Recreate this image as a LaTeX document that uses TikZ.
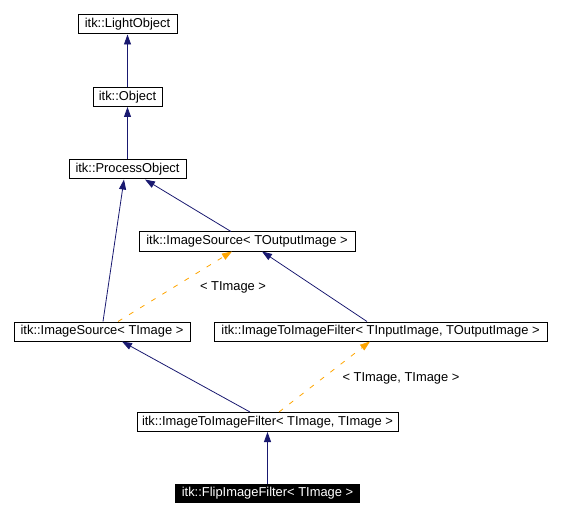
\documentclass[tikz,border=0pt]{standalone}
\usepackage{fontspec}
\setmainfont{Liberation Sans}
\usetikzlibrary{arrows.meta}
\definecolor{edgeblue}{RGB}{25,25,112}
\definecolor{tmplorange}{RGB}{255,165,0}
\begin{document}
\begin{tikzpicture}[x=1pt,y=-1pt,
  cls/.style={draw=black,line width=1pt,inner sep=0pt,minimum height=19pt,font=\fontsize{12.9}{15}\selectfont,fill=white},
  curcls/.style={fill=black,text=white,inner sep=0pt,minimum height=19pt,font=\fontsize{12.9}{15}\selectfont},
  inh/.style={draw=edgeblue,line width=0.8pt,-{Triangle[length=10pt,width=7pt]},edgeblue},
  tmpl/.style={draw=tmplorange,line width=0.8pt,dash pattern=on 5pt off 8pt,-{Triangle[length=10pt,width=7pt]},tmplorange},
  lbl/.style={inner sep=0pt,font=\fontsize{12.9}{15}\selectfont}]
\useasboundingbox (0,0) rectangle (561,518);
\node[cls,minimum width=99pt] (lo) at (127.5,24.5) {itk::LightObject};
\node[cls,minimum width=69pt] (ob) at (127.5,97) {itk::Object};
\node[cls,minimum width=117pt] (po) at (127.5,169.5) {itk::ProcessObject};
\node[cls,minimum width=216pt] (isout) at (247,241.5) {itk::ImageSource< TOutputImage >};
\node[cls,minimum width=176pt] (isimg) at (102,331.5) {itk::ImageSource< TImage >};
\node[cls,minimum width=333pt] (i2iio) at (380.5,331.5) {itk::ImageToImageFilter< TInputImage, TOutputImage >};
\node[cls,minimum width=261pt] (i2iii) at (267.5,422) {itk::ImageToImageFilter< TImage, TImage >};
\node[curcls,minimum width=185pt] (flip) at (267.5,493.5) {itk::FlipImageFilter< TImage >};
\node[lbl] (l1) at (233,287) {< TImage >};
\node[lbl] (l2) at (401,378) {< TImage, TImage >};
\draw[inh] (ob.north) -- (lo.south);
\draw[inh] (po.north) -- (ob.south);
\draw[inh] ([xshift=1pt]isimg.north) -- ([xshift=-3.5pt]po.south);
\draw[inh] ([xshift=-16pt]isout.north) -- ([xshift=17.5pt]po.south);
\draw[tmpl] ([xshift=16pt]isimg.north) -- ([xshift=-15pt]isout.south);
\draw[inh] ([xshift=-13.5pt]i2iio.north) -- ([xshift=15pt]isout.south);
\draw[inh] ([xshift=-17.5pt]i2iii.north) -- ([xshift=20pt]isimg.south);
\draw[tmpl] ([xshift=11.5pt]i2iii.north) -- ([xshift=-10.5pt]i2iio.south);
\draw[inh] (flip.north) -- (i2iii.south);
\end{tikzpicture}
\end{document}
